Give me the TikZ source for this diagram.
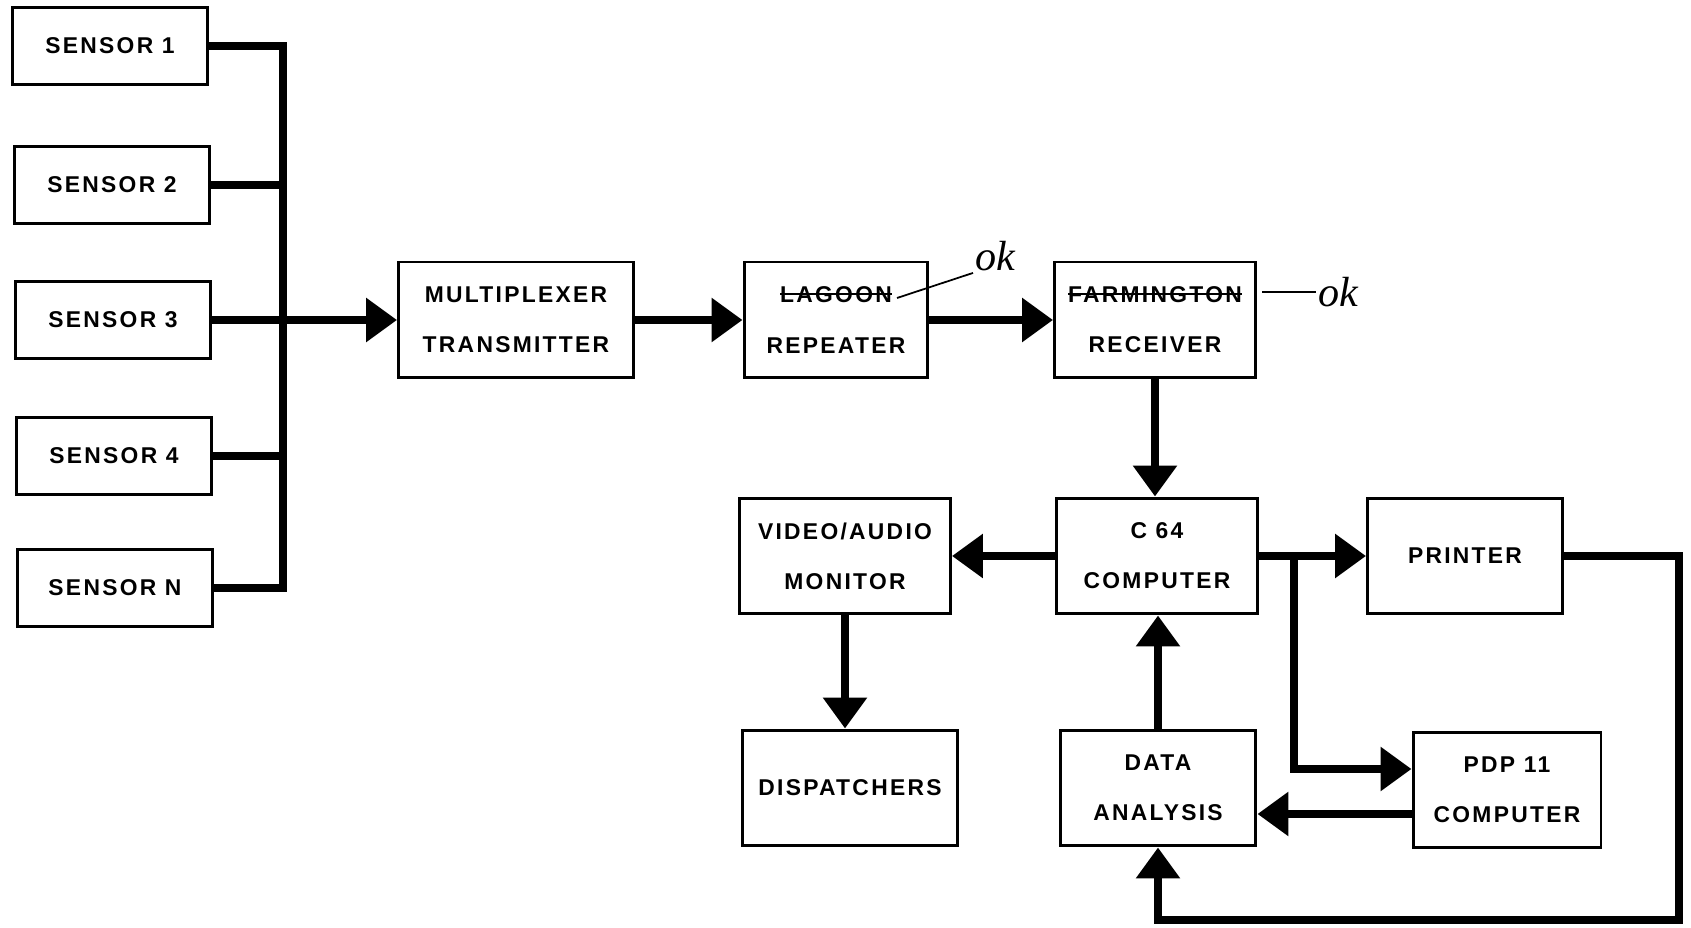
\documentclass[tikz,border=0pt]{standalone}
\usepackage{fontspec}
\setmainfont{Liberation Sans}[LetterSpace=10]
\newfontfamily\handfont{Liberation Serif}[Scale=1]
\usetikzlibrary{arrows.meta}
\newcommand{\struck}[1]{\setbox0=\hbox{#1}\rlap{\rule[0.33em]{\wd0}{1.4pt}}\box0}

\begin{document}
\begin{tikzpicture}[x=0.02cm,y=-0.02cm,
    blk/.style={draw,line width=1.7pt,align=center,minimum height=2.32cm,font=\bfseries\fontsize{13}{28.5}\selectfont},
    sensorbox/.style={blk,minimum width=3.92cm,minimum height=1.54cm},
    flow/.style={line width=5pt,-{Triangle[length=0.62cm,width=0.85cm]}},
    busline/.style={line width=5pt},
    okmark/.style={font=\handfont\itshape\fontsize{24}{24}\selectfont,inner sep=1pt}]
    \useasboundingbox (0,0) rectangle (1691,928);
    % sensors
    \node[sensorbox] (s1) at (110,46) {SENSOR 1};
    \node[sensorbox] (s2) at (112,185) {SENSOR 2};
    \node[sensorbox] (s3) at (113,320) {SENSOR 3};
    \node[sensorbox] (s4) at (114,456) {SENSOR 4};
    \node[sensorbox] (sN) at (115,588) {SENSOR N};
    % link chain
    \node[blk,minimum width=4.7cm] (mux) at (516,320) {MULTIPLEXER\\TRANSMITTER};
    \node[blk,minimum width=3.68cm] (rep) at (836,320) {\struck{LAGOON}\\REPEATER};
    \node[blk,minimum width=4.02cm] (rx) at (1155,320) {\struck{FARMINGTON}\\RECEIVER};
    % computers and outputs
    \node[blk,minimum width=4.02cm] (c64) at (1157,556) {C 64\\COMPUTER};
    \node[blk,minimum width=4.22cm] (mon) at (845,556) {VIDEO/AUDIO\\MONITOR};
    \node[blk,minimum width=4.32cm] (disp) at (850,788) {DISPATCHERS};
    \node[blk,minimum width=3.92cm] (da) at (1158,788) {DATA\\ANALYSIS};
    \node[blk,minimum width=3.9cm] (prn) at (1465,556) {PRINTER};
    \node[blk,minimum width=3.76cm] (pdp) at (1507,790) {PDP 11\\COMPUTER};
    % bus
    \coordinate (bus) at (283,0);
    \draw[busline] (s1.east) -| (bus |- sN.east) -- (sN.east);
    \foreach \s in {s2,s4}
        \draw[busline] (\s.east) -- (\s.east -| bus);
    \draw[flow] (s3.east) -- (mux.west);
    \draw[flow] (mux.east) -- (rep.west);
    \draw[flow] (rep.east) -- (rx.west);
    \draw[flow] (rx.south) -- (rx.south |- c64.north);
    \draw[flow] (c64.west) -- (mon.east);
    \draw[flow] (mon.south) -- (mon.south |- disp.north);
    \draw[flow] (da.north) -- (da.north |- c64.south);
    \draw[flow] (c64.east) -- (prn.west);
    \coordinate (branch) at (1294,0);
    \coordinate (pdpin) at ([yshift=0.42cm]pdp.west);
    \draw[flow] (c64.east -| branch) |- (pdpin);
    \coordinate (pdpout) at ([yshift=-0.48cm]pdp.west);
    \draw[flow] (pdpout) -- (pdpout -| da.east);
    \coordinate (loop) at (1679,920);
    \draw[flow] (prn.east) -| (loop) -| (da.south);
    % handwritten marks
    \node[okmark] (okrep) at (995,256) {ok};
    \coordinate (okA) at (897,298);
    \draw[line width=1pt] (okA) -- (okrep.south west);
    \node[okmark] (okrx) at (1338,292) {ok};
    \coordinate (okB) at (1262,292);
    \draw[line width=1pt] (okB) -- (okrx.west);
\end{tikzpicture}
\end{document}
